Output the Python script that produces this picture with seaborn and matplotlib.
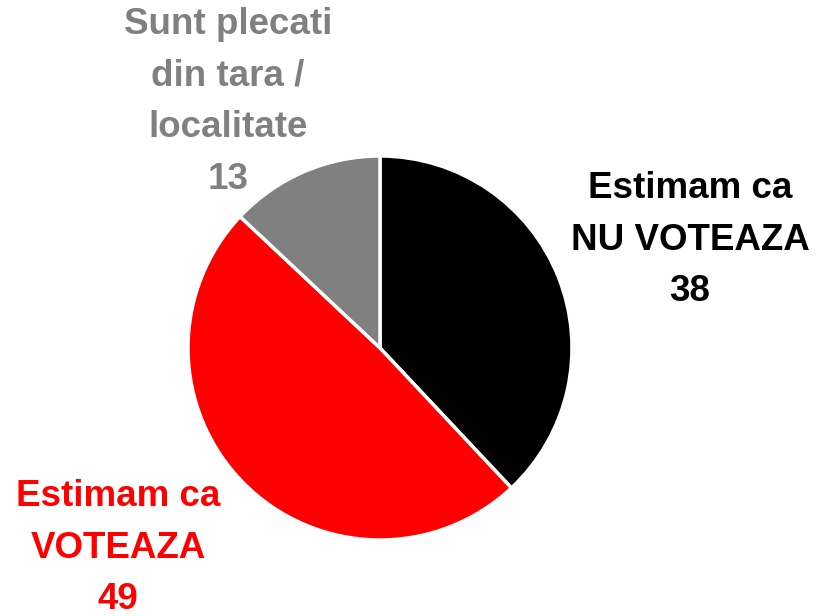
import matplotlib
matplotlib.use("Agg")
import matplotlib.pyplot as plt
import seaborn as sns

# data
categories = ["Estimam ca\nNU VOTEAZA", "Estimam ca\nVOTEAZA", "Sunt plecati\ndin tara /\nlocalitate"]
values = [38, 49, 13]
colors = ["#000000", "#FF0000", "#808080"]

sns.set_theme(style="white")
plt.rcParams['font.family'] = ['Liberation Sans', 'DejaVu Sans']

W, H = 821, 616
fig = plt.figure(figsize=(W / 100, H / 100), dpi=100)
ax = fig.add_axes([0, 0, 1, 1])
ax.set_xlim(0, W)
ax.set_ylim(0, H)
ax.set_aspect('equal')
ax.axis('off')

# pie centred at pixel (380, 348), radius 192
ax.pie(values, colors=colors, startangle=90, counterclock=False,
       center=(380, H - 348), radius=192,
       wedgeprops={'edgecolor': 'white', 'linewidth': 2.5})

# labels placed by hand like the original
label_pos = [(690, 240), (118, 548), (228, 102)]
for cat, val, col, (x, y) in zip(categories, values, colors, label_pos):
    ax.text(x, H - y, f"{cat}\n{val}", color=col, ha='center', va='center',
            fontsize=26.5, fontweight='bold', linespacing=1.62)

ax.set_xlim(0, W)
ax.set_ylim(0, H)
fig.savefig("out.png", dpi=100)
